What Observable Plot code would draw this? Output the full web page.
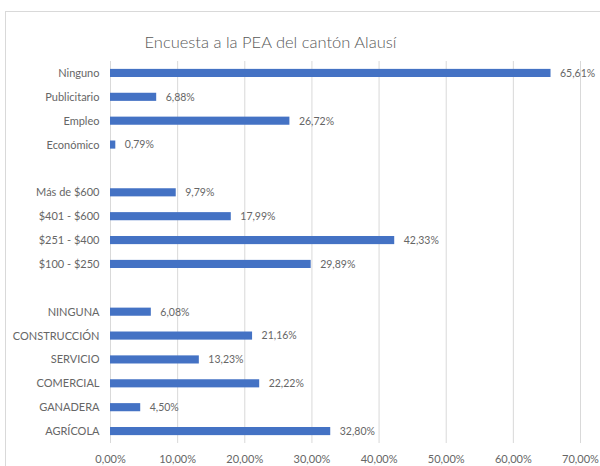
<!DOCTYPE html>
<html>
<head>
<meta charset="utf-8">
<script src="https://cdn.jsdelivr.net/npm/d3@7"></script>
<script src="https://cdn.jsdelivr.net/npm/@observablehq/plot@0.6"></script>
<style>
  html, body { margin: 0; padding: 0; background: #fff; overflow: hidden; }
  #wrap { position: relative; width: 600px; height: 466px; font-family: Lato, "Open Sans", sans-serif; }
  #frame { position: absolute; left: 5px; top: 11px; width: 620px; height: 480px; border: 1px solid #d9d9d9; box-sizing: border-box; }
  #title { position: absolute; left: 0; width: 541px; top: 32px; text-align: center; font-size: 16.5px; font-weight: 300; color: #595959; }
  #plot { position: absolute; left: 0; top: 55px; }
</style>
</head>
<body>
<div id="wrap">
  <div id="frame"></div>
  <div id="title">Encuesta a la PEA del cantón Alausí</div>
  <div id="plot"></div>
</div>
<script>
// Categories top to bottom; "gap1"/"gap2" are empty separator rows
const categories = ["Ninguno", "Publicitario", "Empleo", "Económico", "gap1",
  "Más de $600", "$401 - $600", "$251 - $400", "$100 - $250", "gap2",
  "NINGUNA", "CONSTRUCCIÓN", "SERVICIO", "COMERCIAL", "GANADERA", "AGRÍCOLA"];
const values = [65.61, 6.88, 26.72, 0.79, null,
  9.79, 17.99, 42.33, 29.89, null,
  6.08, 21.16, 13.23, 22.22, 4.50, 32.80];
const xTicks = [0, 10, 20, 30, 40, 50, 60, 70];

const data = categories.map((c, i) => ({category: c, value: values[i]})).filter(d => d.value != null);
const fmt = v => v.toFixed(2).replace(".", ",") + "%";

const plot = Plot.plot({
  width: 600,
  height: 411,
  marginLeft: 110,
  marginRight: 20,
  marginTop: 6,
  marginBottom: 23,
  style: { fontFamily: "Lato, 'Open Sans', sans-serif", fontSize: "11px", color: "#666666", background: "transparent" },
  x: { domain: [0, 70], ticks: xTicks, tickFormat: fmt, label: null, tickSize: 0, tickPadding: 12 },
  y: { domain: categories, label: null, tickSize: 0, tickPadding: 11, paddingInner: 0.66, paddingOuter: 0.33, round: false,
       tickFormat: d => d.startsWith("gap") ? "" : d },
  marks: [
    Plot.ruleX(xTicks, { stroke: "#d9d9d9", strokeWidth: 1 }),
    Plot.barX(data, { x: "value", y: "category", fill: "#4472C4" }),
    Plot.text(data, { x: "value", y: "category", text: d => fmt(d.value), textAnchor: "start", dx: 9, fill: "#666666", fontSize: 10.5 })
  ]
});
document.getElementById("plot").appendChild(plot);
</script>
</body>
</html>
